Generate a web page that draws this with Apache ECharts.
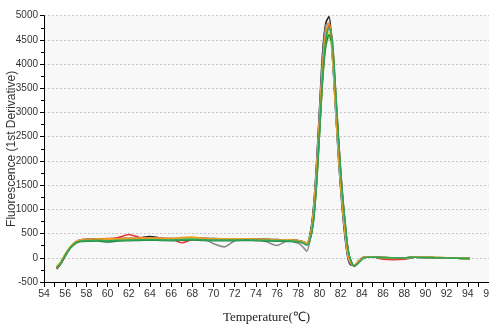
<!DOCTYPE html>
<html><head><meta charset="utf-8">
<script src="https://cdn.jsdelivr.net/npm/echarts@6/dist/echarts.min.js"></script>
<style>html,body{margin:0;padding:0;background:#fff}#c{width:489px;height:324px}</style>
</head><body><div id="c"></div>
<script>
var temps = [55.2,55.6,56.0,56.5,57.0,57.5,58,59,60,61,62,63,64,65,66,67,68,69,70,71,72,73,74,75,76,77,78,78.5,78.8,79.1,79.4,79.7,80.0,80.3,80.6,80.9,81.2,81.5,81.8,82.1,82.4,82.7,83.0,83.3,83.7,84.2,85,86,87,88,89,90,91,92,93,94.2];
var blackCurve = [-230,-120,40,210,330,370,380,385,390,395,400,410,440,405,395,400,400,405,395,390,385,390,385,380,375,370,355,330,300,480,950,1850,3050,4250,4850,4980,4250,3150,2050,1150,450,-20,-150,-150,-60,15,20,5,0,-5,10,5,0,-5,-10,-15];
var grayCurve = [-180,-90,70,230,320,355,370,375,380,380,385,390,395,390,385,380,380,390,290,225,350,380,375,330,255,350,300,210,135,380,900,1800,3000,4150,4800,4850,4200,3150,2100,1200,500,0,-140,-160,-70,10,15,5,0,-5,10,5,0,-5,-10,-15];
var redCurve = [-220,-110,50,220,330,370,380,390,395,420,480,420,405,400,390,310,380,395,390,385,380,385,380,375,370,365,345,315,285,400,780,1550,2650,3800,4600,4800,4500,3500,2450,1500,750,150,-100,-170,-90,5,15,-30,-40,-30,10,10,5,0,-10,-15];
var pinkCurve = [-210,-100,60,225,335,370,380,385,390,395,405,400,400,395,390,380,390,395,385,380,380,380,375,370,365,360,345,310,280,410,820,1650,2800,3900,4600,4750,4350,3300,2250,1350,650,80,-110,-160,-80,5,15,0,-5,-10,10,5,0,-5,-10,-15];
var yellowCurve = [-190,-80,80,240,330,365,375,380,385,390,395,395,400,395,390,400,410,395,390,385,385,385,380,375,370,365,350,325,300,430,820,1600,2700,3800,4500,4650,4300,3250,2200,1300,600,60,-110,-150,-70,10,20,5,0,-5,10,10,5,0,-10,-15];
var lightGreenCurve = [-180,-80,70,220,310,350,360,365,370,375,380,385,390,385,380,385,390,385,380,375,375,375,370,365,360,355,340,310,280,380,720,1450,2550,3650,4350,4550,4350,3400,2350,1400,700,120,-100,-160,-90,0,15,5,0,-5,10,5,5,0,-10,-15];
var darkGreenCurve = [-200,-110,40,200,300,335,345,350,325,350,355,360,365,360,355,365,370,360,355,355,355,360,355,350,345,340,330,300,270,370,700,1450,2550,3700,4400,4600,4400,3450,2400,1450,750,150,-80,-170,-100,0,15,5,0,-5,10,5,0,-5,-10,-15];
var orangeCurve = [-200,-100,60,220,320,360,375,380,385,390,395,400,405,400,395,420,430,395,390,385,380,385,380,375,370,365,350,320,290,420,800,1600,2750,3900,4650,4850,4400,3300,2200,1300,600,50,-120,-160,-80,10,20,5,0,-10,15,10,5,-5,-10,-15];
var greenCurve = [-210,-110,50,210,310,345,355,360,350,360,365,370,375,370,365,375,380,370,365,365,365,370,365,360,355,350,335,300,265,360,700,1450,2600,3750,4500,4750,4500,3550,2450,1500,780,170,-80,-170,-100,-5,15,5,0,-5,10,5,0,-5,-10,-15];

var yTicks = [-500,0,500,1000,1500,2000,2500,3000,3500,4000,4500,5000];
var xLabels = [54,56,58,60,62,64,66,68,70,72,74,76,78,80,82,84,86,88,90,92,94,96];

var curves = [
  [blackCurve,'#1e1e1e'],[grayCurve,'#8a8a8a'],[pinkCurve,'#f28fa6'],[redCurve,'#e23b3b'],
  [yellowCurve,'#e8d53a'],[lightGreenCurve,'#9fd356'],[darkGreenCurve,'#1d7f3c'],
  [orangeCurve,'#f39a1e'],[greenCurve,'#2fa55a']
];
var series = curves.map(function(c){
  return {type:'line', showSymbol:false, smooth:0.3, data: temps.map(function(t,i){return [t,c[0][i]];}),
    lineStyle:{color:c[1], width:1.6}, itemStyle:{color:c[1]}};
});
var narrow = '"Liberation Sans Narrow","Arial Narrow",sans-serif';
var chart = echarts.init(document.getElementById('c'));
chart.setOption({
  animation:false,
  grid:{left:44, right:0, top:15.7, bottom:42, outerBoundsMode:'none', containLabel:false,
    show:true, backgroundColor:'#f8f8f8', borderWidth:0},
  xAxis:{type:'value', min:54, max:96, interval:1,
    name:'Temperature(\u2103)', nameLocation:'middle', nameGap:29, nameMoveOverlap:false,
    nameTextStyle:{fontFamily:'"Liberation Serif","Times New Roman",serif', fontSize:13, color:'#222'},
    axisLine:{onZero:false, lineStyle:{color:'#000', width:1}},
    axisTick:{show:true, length:5, lineStyle:{color:'#000'}},
    axisLabel:{fontFamily:narrow, fontSize:10.5, color:'#333', margin:7, hideOverlap:false,
      formatter:function(v){return xLabels.indexOf(v)>=0 ? String(v) : '';}},
    splitLine:{show:false}},
  yAxis:{type:'value', min:-500, max:5000, interval:500,
    name:'Fluorescence (1st Derivative)', nameLocation:'middle', nameGap:26, nameRotate:90, nameMoveOverlap:false,
    nameTextStyle:{fontFamily:'"Liberation Sans",Arial,sans-serif', fontSize:12, color:'#333'},
    axisLine:{show:true, lineStyle:{color:'#000', width:1}},
    axisTick:{show:true, length:4, lineStyle:{color:'#000'}},
    minorTick:{show:true, splitNumber:2, length:3, lineStyle:{color:'#000'}},
    axisLabel:{fontFamily:narrow, fontSize:10, color:'#333', margin:6,
      formatter:function(v){return yTicks.indexOf(v)>=0 ? String(v) : '';}},
    splitLine:{show:true, lineStyle:{color:'#c8c8c8', type:[2,2], width:1}}},
  series:series
});
</script></body></html>
